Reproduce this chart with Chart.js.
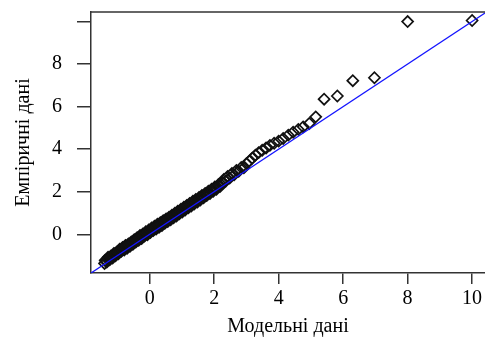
<!DOCTYPE html>
<html lang="uk">
<head>
    <meta charset="UTF-8">
    <title>Q-Q графік</title>
    <script src="https://cdn.jsdelivr.net/npm/chart.js"></script>
    <style>
        body {
            margin: 0;
            background: #fff;
        }
    </style>
</head>
<body>
    <canvas id="qqChart" width="485" height="340"></canvas>

    <script>
        // Модельні квантилі (вісь X)
        const modelQ = [
            -1.40, -1.38, -1.33, -1.29, -1.24, -1.20, -1.15, -1.11, -1.06, -1.02,
            -0.97, -0.93, -0.88, -0.84, -0.79, -0.75, -0.70, -0.66, -0.61, -0.57,
            -0.52, -0.48, -0.43, -0.39, -0.34, -0.30, -0.25, -0.21, -0.16, -0.12,
            -0.07, -0.03, 0.02, 0.06, 0.11, 0.15, 0.20, 0.24, 0.29, 0.33,
            0.38, 0.42, 0.47, 0.51, 0.56, 0.60, 0.65, 0.69, 0.74, 0.78,
            0.83, 0.87, 0.92, 0.97, 1.01, 1.06, 1.10, 1.15, 1.20, 1.24,
            1.29, 1.34, 1.38, 1.43, 1.48, 1.53, 1.57, 1.62, 1.67, 1.72,
            1.77, 1.82, 1.87, 1.92, 1.97, 2.02, 2.07, 2.13, 2.18, 2.24,
            2.30, 2.36, 2.42, 2.48, 2.55, 2.62, 2.69, 2.76, 2.84, 2.92,
            3.00, 3.09, 3.18, 3.28, 3.38, 3.49, 3.61, 3.73, 3.86, 4.00,
            4.14, 4.30, 4.45, 4.61, 4.76, 4.95, 5.15, 5.41, 5.82, 6.30, 6.97, 8.00, 10.00
        ];

        // Емпіричні значення (вісь Y)
        const empiricalQ = [
            -1.37, -1.22, -1.30, -1.08, -1.20, -1.02, -1.12, -0.90, -1.01, -0.84,
            -0.92, -0.70, -0.80, -0.62, -0.74, -0.52, -0.66, -0.46, -0.56, -0.36,
            -0.47, -0.26, -0.36, -0.16, -0.28, -0.06, -0.20, 0.02, -0.08, 0.12,
            -0.02, 0.20, 0.08, 0.30, 0.17, 0.38, 0.25, 0.47, 0.33, 0.55,
            0.41, 0.64, 0.52, 0.72, 0.60, 0.80, 0.68, 0.90, 0.78, 0.99,
            0.86, 1.08, 0.96, 1.18, 1.05, 1.27, 1.14, 1.36, 1.24, 1.45,
            1.33, 1.55, 1.42, 1.64, 1.52, 1.73, 1.61, 1.83, 1.71, 1.92,
            1.82, 2.02, 1.92, 2.12, 2.02, 2.22, 2.12, 2.33, 2.24, 2.44,
            2.58, 2.50, 2.72, 2.64, 2.86, 2.80, 3.00, 2.96, 3.14, 3.12,
            3.32, 3.44, 3.58, 3.72, 3.84, 3.95, 4.06, 4.18, 4.28, 4.38,
            4.50, 4.66, 4.80, 4.93, 5.05, 5.21, 5.52, 6.35, 6.50, 7.22, 7.36, 10.00, 10.05
        ];

        // Щільна частина вибірки між сусідніми точками
        const modelQMid = [
            -1.36, -1.31, -1.27, -1.22, -1.17, -1.13, -1.08, -1.04, -0.99, -0.95,
            -0.90, -0.86, -0.81, -0.77, -0.72, -0.68, -0.63, -0.59, -0.54, -0.50,
            -0.45, -0.41, -0.36, -0.32, -0.27, -0.23, -0.18, -0.14, -0.09, -0.05,
            0.00, 0.04, 0.09, 0.13, 0.18, 0.22, 0.27, 0.31, 0.36, 0.40,
            0.45, 0.49, 0.54, 0.58, 0.63, 0.67, 0.72, 0.76, 0.81, 0.85,
            0.90, 0.95, 0.99, 1.04, 1.08, 1.13, 1.18, 1.22, 1.27, 1.32,
            1.36, 1.41, 1.46, 1.51, 1.55, 1.60, 1.65, 1.70, 1.75, 1.80,
            1.85, 1.90, 1.95, 2.00, 2.05, 2.10, 2.16, 2.21, 2.27
        ];
        const empiricalQMid = [
            -1.25, -1.17, -1.15, -1.06, -1.05, -0.99, -0.93, -0.90, -0.86, -0.80,
            -0.78, -0.72, -0.66, -0.63, -0.59, -0.53, -0.50, -0.45, -0.42, -0.36,
            -0.31, -0.27, -0.24, -0.18, -0.14, -0.08, -0.05, 0.00, 0.05, 0.09,
            0.13, 0.17, 0.23, 0.27, 0.30, 0.36, 0.41, 0.45, 0.48, 0.54,
            0.59, 0.63, 0.66, 0.72, 0.77, 0.81, 0.84, 0.90, 0.95, 0.99,
            1.02, 1.08, 1.13, 1.17, 1.20, 1.26, 1.32, 1.35, 1.39, 1.45,
            1.50, 1.54, 1.58, 1.64, 1.69, 1.73, 1.77, 1.83, 1.89, 1.93,
            1.97, 2.03, 2.09, 2.13, 2.17, 2.24, 2.31, 2.35, 2.41
        ];

        // Лінія y = x
        const refLineX = [-1.9, 10.6];

        const xTicks = [0, 2, 4, 6, 8, 10];
        const yTicks = [0, 2, 4, 6, 8, 10];
        const yTickLabels = ['0', '2', '4', '6', '8', ''];

        const xRange = [-1.82, 10.4];
        const yRange = [-1.82, 10.45];

        const axisColor = '#333';
        const serif = '"Liberation Serif", "Times New Roman", serif';

        const points = modelQ.map((x, i) => ({ x: x, y: empiricalQ[i] }))
            .concat(modelQMid.map((x, i) => ({ x: x, y: empiricalQMid[i] })));
        const refLine = refLineX.map(v => ({ x: v, y: v }));

        // верхня рамка області графіка
        const topFrame = {
            id: 'topFrame',
            afterDraw(chart) {
                const { ctx, chartArea } = chart;
                ctx.save();
                ctx.strokeStyle = axisColor;
                ctx.lineWidth = 1.5;
                ctx.beginPath();
                ctx.moveTo(chartArea.left, chartArea.top);
                ctx.lineTo(chartArea.right + 2, chartArea.top);
                ctx.stroke();
                ctx.restore();
            }
        };

        function fixedTicks(values) {
            return scale => {
                scale.ticks = values.map(v => ({ value: v }));
            };
        }

        new Chart(document.getElementById('qqChart'), {
            type: 'scatter',
            data: {
                datasets: [
                    {
                        type: 'line',
                        data: refLine,
                        borderColor: '#1414ff',
                        borderWidth: 1.3,
                        pointRadius: 0,
                        fill: false,
                        order: 0
                    },
                    {
                        data: points,
                        pointStyle: 'rectRot',
                        pointRadius: 5.5,
                        pointBorderWidth: 1.7,
                        pointBorderColor: '#111',
                        pointBackgroundColor: 'rgba(0,0,0,0)',
                        order: 1
                    }
                ]
            },
            options: {
                responsive: false,
                animation: false,
                layout: {
                    autoPadding: false,
                    padding: { top: 12, right: 0, left: 0, bottom: 0 }
                },
                plugins: {
                    legend: { display: false },
                    tooltip: { enabled: false }
                },
                scales: {
                    x: {
                        type: 'linear',
                        min: xRange[0],
                        max: xRange[1],
                        afterBuildTicks: fixedTicks(xTicks),
                        afterFit: scale => {
                            scale.height = 67;
                            scale.paddingLeft = 0;
                            scale.paddingRight = 0;
                        },
                        grid: {
                            drawOnChartArea: false,
                            tickLength: 11,
                            color: axisColor,
                            lineWidth: 1.5
                        },
                        border: { color: axisColor, width: 1.5 },
                        ticks: {
                            color: '#000',
                            padding: 3,
                            maxRotation: 0,
                            font: { family: serif, size: 20 }
                        },
                        title: {
                            display: true,
                            text: 'Модельні дані',
                            color: '#000',
                            padding: { top: 0, bottom: 1 },
                            font: { family: serif, size: 20 }
                        }
                    },
                    y: {
                        type: 'linear',
                        min: yRange[0],
                        max: yRange[1],
                        afterBuildTicks: fixedTicks(yTicks),
                        afterFit: scale => {
                            scale.width = 91;
                            scale.paddingTop = 0;
                            scale.paddingBottom = 0;
                        },
                        grid: {
                            drawOnChartArea: false,
                            tickLength: 14,
                            color: axisColor,
                            lineWidth: 1.5
                        },
                        border: { color: axisColor, width: 1.5 },
                        ticks: {
                            color: '#000',
                            padding: 15,
                            font: { family: serif, size: 20 },
                            callback: (value, index) => yTickLabels[index]
                        },
                        title: {
                            display: true,
                            text: 'Емпіричні дані',
                            color: '#000',
                            padding: { top: 12, bottom: 0 },
                            font: { family: serif, size: 20 }
                        }
                    }
                }
            },
            plugins: [topFrame]
        });
    </script>
</body>
</html>
